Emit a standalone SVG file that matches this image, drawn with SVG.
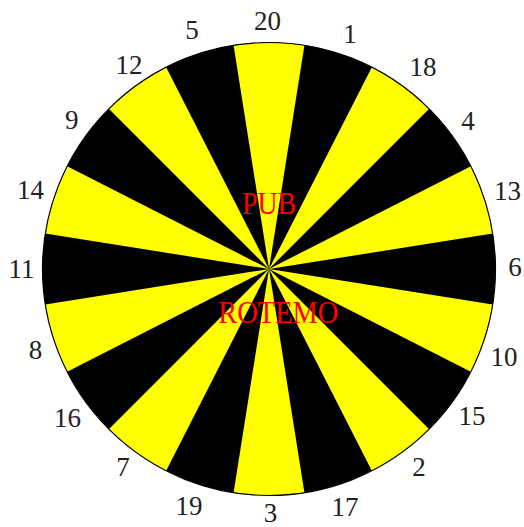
<svg xmlns="http://www.w3.org/2000/svg" width="524" height="527" viewBox="0 0 524 527">
<style>
.y{fill:#FFFF00;stroke:none}
.num{font-family:"Liberation Serif","Times New Roman",serif;font-size:27px;fill:#222;text-anchor:middle}
.red{font-family:"Liberation Serif","Times New Roman",serif;font-size:31px;fill:#FF0000;text-anchor:middle}
</style>
<rect width="524" height="527" fill="#FFFFFF"/>
<g id="board">
<circle id="base" cx="269" cy="269" r="226.5" fill="#000000"/>
<g id="s20"><path class="y" d="M269,269 L233.57,45.29 A226.5,226.5 0 0 1 304.43,45.29 Z"/></g>
<g id="s18"><path class="y" d="M269,269 L371.83,67.19 A226.5,226.5 0 0 1 429.16,108.84 Z"/></g>
<g id="s13"><path class="y" d="M269,269 L470.81,166.17 A226.5,226.5 0 0 1 492.71,233.57 Z"/></g>
<g id="s10"><path class="y" d="M269,269 L492.71,304.43 A226.5,226.5 0 0 1 470.81,371.83 Z"/></g>
<g id="s2"><path class="y" d="M269,269 L429.16,429.16 A226.5,226.5 0 0 1 371.83,470.81 Z"/></g>
<g id="s3"><path class="y" d="M269,269 L304.43,492.71 A226.5,226.5 0 0 1 233.57,492.71 Z"/></g>
<g id="s7"><path class="y" d="M269,269 L166.17,470.81 A226.5,226.5 0 0 1 108.84,429.16 Z"/></g>
<g id="s8"><path class="y" d="M269,269 L67.19,371.83 A226.5,226.5 0 0 1 45.29,304.43 Z"/></g>
<g id="s14"><path class="y" d="M269,269 L45.29,233.57 A226.5,226.5 0 0 1 67.19,166.17 Z"/></g>
<g id="s12"><path class="y" d="M269,269 L108.84,108.84 A226.5,226.5 0 0 1 166.17,67.19 Z"/></g>
<circle id="rim" cx="269" cy="269" r="226.5" fill="none" stroke="#000000" stroke-width="1.2"/>
</g>
<g id="labels">
<g id="l20"><text class="num" x="267.5" y="30">20</text></g>
<g id="l1"><text class="num" x="350" y="43.3">1</text></g>
<g id="l18"><text class="num" x="423" y="76">18</text></g>
<g id="l4"><text class="num" x="468" y="130.3">4</text></g>
<g id="l13"><text class="num" x="507.5" y="200.3">13</text></g>
<g id="l6"><text class="num" x="515" y="276.3">6</text></g>
<g id="l10"><text class="num" x="504" y="366.3">10</text></g>
<g id="l15"><text class="num" x="472" y="425.3">15</text></g>
<g id="l2"><text class="num" x="419" y="476.3">2</text></g>
<g id="l17"><text class="num" x="345" y="515.8">17</text></g>
<g id="l3"><text class="num" x="270.5" y="521.5">3</text></g>
<g id="l19"><text class="num" x="189" y="515.3">19</text></g>
<g id="l7"><text class="num" x="123" y="476.3">7</text></g>
<g id="l16"><text class="num" x="67.5" y="427.3">16</text></g>
<g id="l8"><text class="num" x="35.5" y="359.3">8</text></g>
<g id="l11"><text class="num" x="21.5" y="278.3">11</text></g>
<g id="l14"><text class="num" x="30.5" y="199.3">14</text></g>
<g id="l9"><text class="num" x="71.7" y="129.3">9</text></g>
<g id="l12"><text class="num" x="129" y="74.3">12</text></g>
<g id="l5"><text class="num" x="192" y="39.3">5</text></g>
</g>
<g id="title">
<text class="red" x="269" y="214" textLength="54" lengthAdjust="spacingAndGlyphs">PUB</text>
<text class="red" x="278.3" y="323" textLength="120" lengthAdjust="spacingAndGlyphs">ROTEMO</text>
</g>
</svg>
